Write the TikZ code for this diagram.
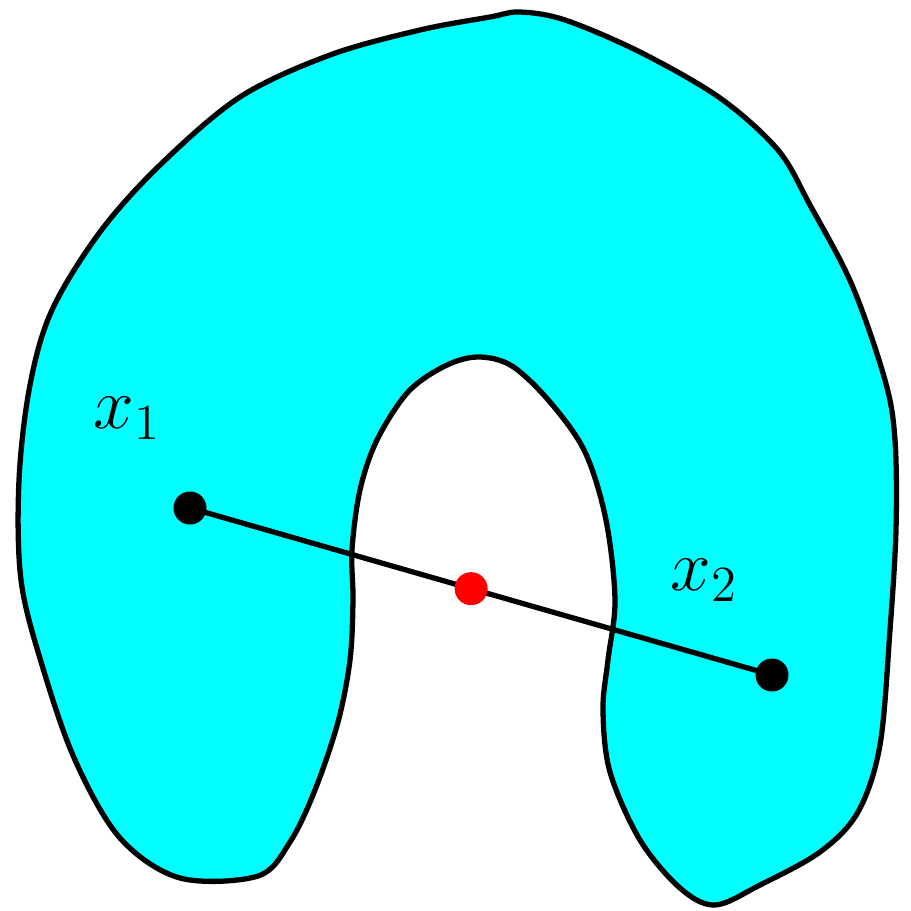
\documentclass[tikz,border=0pt]{standalone}
\usepackage{xcolor}
\usepackage{amsmath}
\definecolor{setCyan}{RGB}{0,255,255}
\definecolor{midRed}{RGB}{255,0,0}
\usepackage{tikz}
\usetikzlibrary{positioning}

\begin{document}
\begin{tikzpicture}[x=0.01cm, y=-0.01cm,
    dot/.style={circle, fill=black, inner sep=0pt, minimum size=0.33cm},
    reddot/.style={circle, fill=midRed, inner sep=0pt, minimum size=0.33cm}]
      \useasboundingbox (0,0) rectangle (911,911);
      % the non-convex set
      \draw[fill=setCyan, line width=1.5pt, line join=round]
        plot[smooth cycle, tension=0.55] coordinates {
          (258,876) (180,878) (120,838) (75,760) (42,665) (21,580) (19,480)
          (30,385) (52,310) (100,232) (160,165) (240,97) (330,55) (420,30)
          (490,17) (520,12) (565,20) (640,52) (720,98) (778,150) (810,205)
          (852,285) (885,380) (895,440) (896,530) (890,630) (880,745)
          (858,812) (820,852) (760,885) (715,905) (680,888) (640,840)
          (610,772) (603,710) (608,660) (615,600) (606,520) (585,452)
          (550,402) (512,366) (478,357) (445,366) (408,392) (377,440)
          (360,490) (352,550) (353,600) (350,660) (338,722) (315,790)
          (290,842)
        };
      \node[dot] (x1) at (190,508) {};
      \node[dot] (x2) at (772,675) {};
      \draw[line width=1.5pt] (x1.center) -- (x2.center);
      \path (x1.center) -- (x2.center) node[reddot, pos=0.483] (mid) {};
      \node (lab1) at ([shift={(-63,-90)}]x1) {\huge $x_1$};
      \node (lab2) at ([shift={(-68,-95)}]x2) {\huge $x_2$};
    \end{tikzpicture}
\end{document}
